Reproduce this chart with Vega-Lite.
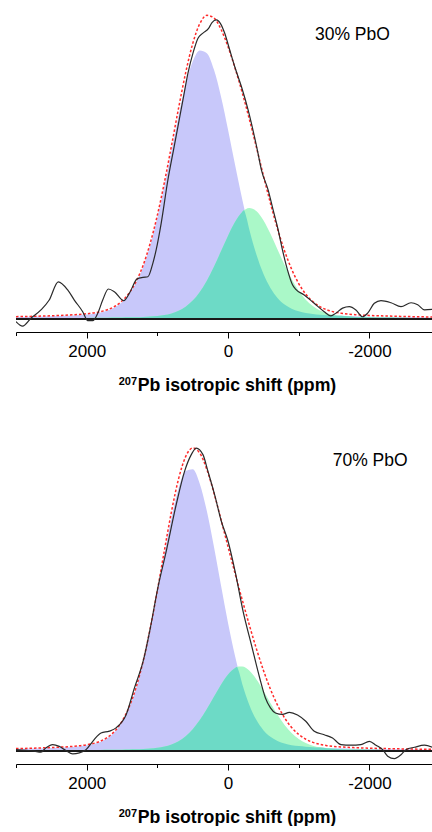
{
  "$schema": "https://vega.github.io/schema/vega-lite/v6.json",
  "padding": {"left": 15, "top": 5, "right": 0, "bottom": 0},
  "spacing": 43,
  "config": {
    "view": {"stroke": null},
    "font": "Liberation Sans",
    "axis": {"grid": false, "domainColor": "#000", "tickColor": "#000", "labelColor": "#000", "titleColor": "#000", "domainWidth": 1, "tickWidth": 1}
  },
  "datasets": {
    "c1": [
      {"ppm": 3000, "blue": 0.0052, "green": 0.0012, "overlap": 0.0012, "fit": 0.0064},
      {"ppm": 2800, "blue": 0.0060, "green": 0.0013, "overlap": 0.0013, "fit": 0.0073},
      {"ppm": 2600, "blue": 0.0071, "green": 0.0015, "overlap": 0.0015, "fit": 0.0086},
      {"ppm": 2400, "blue": 0.0085, "green": 0.0017, "overlap": 0.0017, "fit": 0.0102},
      {"ppm": 2200, "blue": 0.0105, "green": 0.0020, "overlap": 0.0020, "fit": 0.0125},
      {"ppm": 2000, "blue": 0.0137, "green": 0.0023, "overlap": 0.0023, "fit": 0.016},
      {"ppm": 1800, "blue": 0.0205, "green": 0.0028, "overlap": 0.0028, "fit": 0.0233},
      {"ppm": 1700, "blue": 0.0272, "green": 0.0030, "overlap": 0.0030, "fit": 0.0302},
      {"ppm": 1600, "blue": 0.0379, "green": 0.0033, "overlap": 0.0033, "fit": 0.0412},
      {"ppm": 1500, "blue": 0.0549, "green": 0.0037, "overlap": 0.0037, "fit": 0.0586},
      {"ppm": 1400, "blue": 0.081, "green": 0.0042, "overlap": 0.0042, "fit": 0.0852},
      {"ppm": 1300, "blue": 0.1196, "green": 0.0047, "overlap": 0.0047, "fit": 0.1243},
      {"ppm": 1200, "blue": 0.1739, "green": 0.0055, "overlap": 0.0055, "fit": 0.1794},
      {"ppm": 1100, "blue": 0.2464, "green": 0.0067, "overlap": 0.0067, "fit": 0.2531},
      {"ppm": 1000, "blue": 0.3374, "green": 0.0086, "overlap": 0.0086, "fit": 0.346},
      {"ppm": 900, "blue": 0.4446, "green": 0.0118, "overlap": 0.0118, "fit": 0.4564},
      {"ppm": 800, "blue": 0.5615, "green": 0.0171, "overlap": 0.0171, "fit": 0.5786},
      {"ppm": 700, "blue": 0.6786, "green": 0.0258, "overlap": 0.0258, "fit": 0.7044},
      {"ppm": 600, "blue": 0.7831, "green": 0.0396, "overlap": 0.0396, "fit": 0.8227},
      {"ppm": 500, "blue": 0.8604, "green": 0.0602, "overlap": 0.0602, "fit": 0.9206},
      {"ppm": 400, "blue": 0.8979, "green": 0.0891, "overlap": 0.0891, "fit": 0.987},
      {"ppm": 300, "blue": 0.8883, "green": 0.127, "overlap": 0.127, "fit": 1.0153},
      {"ppm": 200, "blue": 0.8336, "green": 0.1732, "overlap": 0.1732, "fit": 1.0068},
      {"ppm": 100, "blue": 0.7437, "green": 0.2251, "overlap": 0.2251, "fit": 0.9688},
      {"ppm": 0, "blue": 0.6324, "green": 0.2776, "overlap": 0.2776, "fit": 0.91},
      {"ppm": -100, "blue": 0.5139, "green": 0.3241, "overlap": 0.3241, "fit": 0.838},
      {"ppm": -200, "blue": 0.4001, "green": 0.3571, "overlap": 0.3571, "fit": 0.7572},
      {"ppm": -225, "blue": 0.3733, "green": 0.3624, "overlap": 0.3624, "fit": 0.7357},
      {"ppm": -250, "blue": 0.3476, "green": 0.3664, "overlap": 0.3476, "fit": 0.714},
      {"ppm": -300, "blue": 0.299, "green": 0.37, "overlap": 0.299, "fit": 0.669},
      {"ppm": -400, "blue": 0.2152, "green": 0.3598, "overlap": 0.2152, "fit": 0.575},
      {"ppm": -500, "blue": 0.1501, "green": 0.329, "overlap": 0.1501, "fit": 0.4791},
      {"ppm": -600, "blue": 0.1024, "green": 0.2836, "overlap": 0.1024, "fit": 0.386},
      {"ppm": -700, "blue": 0.0692, "green": 0.2315, "overlap": 0.0692, "fit": 0.3007},
      {"ppm": -800, "blue": 0.0471, "green": 0.1793, "overlap": 0.0471, "fit": 0.2264},
      {"ppm": -900, "blue": 0.033, "green": 0.1321, "overlap": 0.033, "fit": 0.1651},
      {"ppm": -1000, "blue": 0.0241, "green": 0.0932, "overlap": 0.0241, "fit": 0.1173},
      {"ppm": -1100, "blue": 0.0186, "green": 0.0631, "overlap": 0.0186, "fit": 0.0817},
      {"ppm": -1200, "blue": 0.0151, "green": 0.0417, "overlap": 0.0151, "fit": 0.0568},
      {"ppm": -1300, "blue": 0.0128, "green": 0.0272, "overlap": 0.0128, "fit": 0.04},
      {"ppm": -1400, "blue": 0.0111, "green": 0.018, "overlap": 0.0111, "fit": 0.0291},
      {"ppm": -1500, "blue": 0.0099, "green": 0.0123, "overlap": 0.0099, "fit": 0.0222},
      {"ppm": -1600, "blue": 0.009, "green": 0.009, "overlap": 0.009, "fit": 0.018},
      {"ppm": -1800, "blue": 0.0075, "green": 0.0056, "overlap": 0.0056, "fit": 0.0131},
      {"ppm": -2000, "blue": 0.0063, "green": 0.0042, "overlap": 0.0042, "fit": 0.0105},
      {"ppm": -2200, "blue": 0.0054, "green": 0.0034, "overlap": 0.0034, "fit": 0.0088},
      {"ppm": -2400, "blue": 0.0047, "green": 0.0028, "overlap": 0.0028, "fit": 0.0075},
      {"ppm": -2600, "blue": 0.0041, "green": 0.0023, "overlap": 0.0023, "fit": 0.0064},
      {"ppm": -2800, "blue": 0.0036, "green": 0.002, "overlap": 0.002, "fit": 0.0056},
      {"ppm": -2900, "blue": 0.0034, "green": 0.0019, "overlap": 0.0019, "fit": 0.0053}
    ],
    "e1": [
      {"ppm": 3000, "intensity": -0.010}, {"ppm": 2907, "intensity": -0.025}, {"ppm": 2789, "intensity": 0.001},
      {"ppm": 2647, "intensity": 0.029}, {"ppm": 2530, "intensity": 0.062}, {"ppm": 2402, "intensity": 0.123},
      {"ppm": 2269, "intensity": 0.096}, {"ppm": 2175, "intensity": 0.062}, {"ppm": 2056, "intensity": 0.023},
      {"ppm": 1985, "intensity": -0.007}, {"ppm": 1914, "intensity": -0.007}, {"ppm": 1843, "intensity": 0.018},
      {"ppm": 1773, "intensity": 0.062}, {"ppm": 1693, "intensity": 0.099}, {"ppm": 1608, "intensity": 0.090},
      {"ppm": 1475, "intensity": 0.060}, {"ppm": 1395, "intensity": 0.085}, {"ppm": 1286, "intensity": 0.133},
      {"ppm": 1205, "intensity": 0.138}, {"ppm": 1134, "intensity": 0.140}, {"ppm": 1064, "intensity": 0.185},
      {"ppm": 1017, "intensity": 0.230}, {"ppm": 946, "intensity": 0.319}, {"ppm": 851, "intensity": 0.464},
      {"ppm": 771, "intensity": 0.565}, {"ppm": 709, "intensity": 0.643}, {"ppm": 638, "intensity": 0.732},
      {"ppm": 567, "intensity": 0.822}, {"ppm": 496, "intensity": 0.889}, {"ppm": 425, "intensity": 0.939},
      {"ppm": 355, "intensity": 0.956}, {"ppm": 275, "intensity": 0.972}, {"ppm": 227, "intensity": 0.991},
      {"ppm": 166, "intensity": 1.000}, {"ppm": 105, "intensity": 0.987}, {"ppm": 48, "intensity": 0.956},
      {"ppm": -23, "intensity": 0.900}, {"ppm": -94, "intensity": 0.844}, {"ppm": -189, "intensity": 0.777},
      {"ppm": -284, "intensity": 0.699}, {"ppm": -415, "intensity": 0.564}, {"ppm": -472, "intensity": 0.498},
      {"ppm": -567, "intensity": 0.431}, {"ppm": -638, "intensity": 0.364}, {"ppm": -709, "intensity": 0.297},
      {"ppm": -770, "intensity": 0.230}, {"ppm": -841, "intensity": 0.163}, {"ppm": -912, "intensity": 0.113},
      {"ppm": -959, "intensity": 0.098}, {"ppm": -1078, "intensity": 0.079}, {"ppm": -1219, "intensity": 0.051},
      {"ppm": -1361, "intensity": 0.023}, {"ppm": -1455, "intensity": 0.009}, {"ppm": -1526, "intensity": 0.018},
      {"ppm": -1621, "intensity": 0.035}, {"ppm": -1716, "intensity": 0.040}, {"ppm": -1809, "intensity": 0.029},
      {"ppm": -1904, "intensity": 0.006}, {"ppm": -1975, "intensity": 0.018}, {"ppm": -2070, "intensity": 0.051},
      {"ppm": -2164, "intensity": 0.060}, {"ppm": -2306, "intensity": 0.053}, {"ppm": -2447, "intensity": 0.040},
      {"ppm": -2589, "intensity": 0.053}, {"ppm": -2684, "intensity": 0.046}, {"ppm": -2779, "intensity": 0.029},
      {"ppm": -2911, "intensity": 0.031}
    ],
    "c2": [
      {"ppm": 3000, "blue": 0.0057, "green": 0.0009, "overlap": 0.0009, "fit": 0.0066},
      {"ppm": 2800, "blue": 0.0067, "green": 0.001, "overlap": 0.001, "fit": 0.0077},
      {"ppm": 2600, "blue": 0.008, "green": 0.0012, "overlap": 0.0012, "fit": 0.0092},
      {"ppm": 2400, "blue": 0.0098, "green": 0.0014, "overlap": 0.0014, "fit": 0.0112},
      {"ppm": 2200, "blue": 0.0123, "green": 0.0016, "overlap": 0.0016, "fit": 0.0139},
      {"ppm": 2000, "blue": 0.0174, "green": 0.0019, "overlap": 0.0019, "fit": 0.0193},
      {"ppm": 1800, "blue": 0.0298, "green": 0.0023, "overlap": 0.0023, "fit": 0.0321},
      {"ppm": 1700, "blue": 0.0426, "green": 0.0025, "overlap": 0.0025, "fit": 0.0451},
      {"ppm": 1600, "blue": 0.063, "green": 0.0028, "overlap": 0.0028, "fit": 0.0658},
      {"ppm": 1500, "blue": 0.0949, "green": 0.0031, "overlap": 0.0031, "fit": 0.098},
      {"ppm": 1400, "blue": 0.142, "green": 0.0036, "overlap": 0.0036, "fit": 0.1456},
      {"ppm": 1300, "blue": 0.2081, "green": 0.0042, "overlap": 0.0042, "fit": 0.2123},
      {"ppm": 1200, "blue": 0.2956, "green": 0.0051, "overlap": 0.0051, "fit": 0.3007},
      {"ppm": 1100, "blue": 0.4037, "green": 0.0066, "overlap": 0.0066, "fit": 0.4103},
      {"ppm": 1000, "blue": 0.5273, "green": 0.0091, "overlap": 0.0091, "fit": 0.5364},
      {"ppm": 900, "blue": 0.6574, "green": 0.0133, "overlap": 0.0133, "fit": 0.6707},
      {"ppm": 800, "blue": 0.78, "green": 0.0203, "overlap": 0.0203, "fit": 0.8003},
      {"ppm": 700, "blue": 0.8785, "green": 0.0314, "overlap": 0.0314, "fit": 0.9099},
      {"ppm": 600, "blue": 0.9361, "green": 0.0481, "overlap": 0.0481, "fit": 0.9842},
      {"ppm": 500, "blue": 0.9416, "green": 0.0716, "overlap": 0.0716, "fit": 1.0132},
      {"ppm": 400, "blue": 0.8937, "green": 0.1023, "overlap": 0.1023, "fit": 0.996},
      {"ppm": 300, "blue": 0.8022, "green": 0.1394, "overlap": 0.1394, "fit": 0.9416},
      {"ppm": 200, "blue": 0.683, "green": 0.1804, "overlap": 0.1804, "fit": 0.8634},
      {"ppm": 100, "blue": 0.5533, "green": 0.2207, "overlap": 0.2207, "fit": 0.774},
      {"ppm": 0, "blue": 0.4273, "green": 0.255, "overlap": 0.255, "fit": 0.6823},
      {"ppm": -100, "blue": 0.3157, "green": 0.2768, "overlap": 0.2768, "fit": 0.5925},
      {"ppm": -125, "blue": 0.2907, "green": 0.2796, "overlap": 0.2796, "fit": 0.5703},
      {"ppm": -150, "blue": 0.2671, "green": 0.2814, "overlap": 0.2671, "fit": 0.5485},
      {"ppm": -200, "blue": 0.224, "green": 0.2814, "overlap": 0.224, "fit": 0.5054},
      {"ppm": -300, "blue": 0.1535, "green": 0.2678, "overlap": 0.1535, "fit": 0.4213},
      {"ppm": -400, "blue": 0.1028, "green": 0.239, "overlap": 0.1028, "fit": 0.3418},
      {"ppm": -500, "blue": 0.0683, "green": 0.201, "overlap": 0.0683, "fit": 0.2693},
      {"ppm": -600, "blue": 0.0459, "green": 0.1596, "overlap": 0.0459, "fit": 0.2055},
      {"ppm": -700, "blue": 0.032, "green": 0.1202, "overlap": 0.032, "fit": 0.1522},
      {"ppm": -800, "blue": 0.0234, "green": 0.086, "overlap": 0.0234, "fit": 0.1094},
      {"ppm": -900, "blue": 0.0181, "green": 0.059, "overlap": 0.0181, "fit": 0.0771},
      {"ppm": -1000, "blue": 0.0149, "green": 0.039, "overlap": 0.0149, "fit": 0.0539},
      {"ppm": -1100, "blue": 0.0127, "green": 0.0252, "overlap": 0.0127, "fit": 0.0379},
      {"ppm": -1200, "blue": 0.0111, "green": 0.0164, "overlap": 0.0111, "fit": 0.0275},
      {"ppm": -1300, "blue": 0.0099, "green": 0.0109, "overlap": 0.0099, "fit": 0.0208},
      {"ppm": -1400, "blue": 0.0089, "green": 0.0076, "overlap": 0.0076, "fit": 0.0165},
      {"ppm": -1500, "blue": 0.0081, "green": 0.0057, "overlap": 0.0057, "fit": 0.0138},
      {"ppm": -1600, "blue": 0.0074, "green": 0.0046, "overlap": 0.0046, "fit": 0.012},
      {"ppm": -1800, "blue": 0.0063, "green": 0.0033, "overlap": 0.0033, "fit": 0.0096},
      {"ppm": -2000, "blue": 0.0054, "green": 0.0026, "overlap": 0.0026, "fit": 0.008},
      {"ppm": -2200, "blue": 0.0046, "green": 0.0022, "overlap": 0.0022, "fit": 0.0068},
      {"ppm": -2400, "blue": 0.004, "green": 0.0018, "overlap": 0.0018, "fit": 0.0058},
      {"ppm": -2600, "blue": 0.0036, "green": 0.0015, "overlap": 0.0015, "fit": 0.0051},
      {"ppm": -2800, "blue": 0.0031, "green": 0.0013, "overlap": 0.0013, "fit": 0.0044},
      {"ppm": -2900, "blue": 0.003, "green": 0.0012, "overlap": 0.0012, "fit": 0.0042}
    ],
    "e2": [
      {"ppm": 3000, "intensity": 0.003}, {"ppm": 2742, "intensity": -0.002}, {"ppm": 2647, "intensity": -0.005},
      {"ppm": 2577, "intensity": 0.009}, {"ppm": 2482, "intensity": 0.020}, {"ppm": 2388, "intensity": 0.014},
      {"ppm": 2293, "intensity": 0.000}, {"ppm": 2198, "intensity": -0.011}, {"ppm": 2104, "intensity": -0.008},
      {"ppm": 2009, "intensity": 0.003}, {"ppm": 1914, "intensity": 0.031}, {"ppm": 1797, "intensity": 0.059},
      {"ppm": 1679, "intensity": 0.065}, {"ppm": 1584, "intensity": 0.076}, {"ppm": 1442, "intensity": 0.120},
      {"ppm": 1324, "intensity": 0.210}, {"ppm": 1200, "intensity": 0.300}, {"ppm": 1100, "intensity": 0.410},
      {"ppm": 993, "intensity": 0.545}, {"ppm": 875, "intensity": 0.667}, {"ppm": 733, "intensity": 0.824},
      {"ppm": 615, "intensity": 0.935}, {"ppm": 520, "intensity": 0.991}, {"ppm": 450, "intensity": 1.013},
      {"ppm": 355, "intensity": 0.991}, {"ppm": 284, "intensity": 0.935}, {"ppm": 190, "intensity": 0.857},
      {"ppm": 95, "intensity": 0.768}, {"ppm": 0, "intensity": 0.701}, {"ppm": -100, "intensity": 0.600},
      {"ppm": -213, "intensity": 0.466}, {"ppm": -330, "intensity": 0.355}, {"ppm": -448, "intensity": 0.243},
      {"ppm": -529, "intensity": 0.176}, {"ppm": -600, "intensity": 0.143}, {"ppm": -671, "intensity": 0.126},
      {"ppm": -770, "intensity": 0.121}, {"ppm": -869, "intensity": 0.128}, {"ppm": -983, "intensity": 0.119},
      {"ppm": -1100, "intensity": 0.098}, {"ppm": -1220, "intensity": 0.065}, {"ppm": -1361, "intensity": 0.053},
      {"ppm": -1479, "intensity": 0.042}, {"ppm": -1597, "intensity": 0.020}, {"ppm": -1738, "intensity": 0.018},
      {"ppm": -1880, "intensity": 0.020}, {"ppm": -1999, "intensity": 0.031}, {"ppm": -2093, "intensity": 0.018},
      {"ppm": -2188, "intensity": 0.003}, {"ppm": -2259, "intensity": -0.019}, {"ppm": -2354, "intensity": -0.027},
      {"ppm": -2447, "intensity": -0.014}, {"ppm": -2518, "intensity": 0.003}, {"ppm": -2638, "intensity": 0.011},
      {"ppm": -2779, "intensity": 0.018}, {"ppm": -2911, "intensity": 0.009}
    ]
  },
  "vconcat": [
    {
      "width": 417,
      "height": 327,
      "resolve": {"axis": {"x": "independent"}},
      "layer": [
        {
          "data": {"name": "c1"},
          "mark": {"type": "area", "color": "#c8c8fa", "interpolate": "monotone", "clip": true},
          "encoding": {
            "x": {"field": "ppm", "type": "quantitative", "scale": {"domain": [3000, -2900], "nice": false, "zero": false},
                  "axis": {"orient": "bottom", "values": [2000, 0, -2000], "labelExpr": "'' + datum.value", "tickSize": 6, "labelPadding": 5, "labelFontSize": 17, "title": "Pb isotropic shift (ppm)", "titleX": 220.5, "titleFontSize": 17.7, "titleFontWeight": "bold", "titlePadding": 17}},
            "y": {"field": "blue", "type": "quantitative", "scale": {"domain": [-0.045, 1.05], "nice": false, "zero": false}, "axis": null},
            "y2": {"datum": 0}
          }
        },
        {
          "data": {"name": "c1"},
          "mark": {"type": "area", "color": "#aaf8c8", "interpolate": "monotone", "clip": true},
          "encoding": {
            "x": {"field": "ppm", "type": "quantitative", "scale": {"domain": [3000, -2900], "nice": false, "zero": false},
                  "axis": {"orient": "bottom", "values": [3000, 1000, -1000], "tickSize": 3.5, "labels": false, "domain": false, "title": null}},
            "y": {"field": "green", "type": "quantitative", "axis": null},
            "y2": {"datum": 0}
          }
        },
        {
          "data": {"name": "c1"},
          "mark": {"type": "area", "color": "#6ddac6", "interpolate": "monotone", "clip": true},
          "encoding": {
            "x": {"field": "ppm", "type": "quantitative", "axis": null},
            "y": {"field": "overlap", "type": "quantitative", "axis": null},
            "y2": {"datum": 0}
          }
        },
        {
          "data": {"name": "c1"},
          "mark": {"type": "rule", "color": "#1a1a1a", "strokeWidth": 1.3},
          "encoding": {"y": {"datum": 0, "axis": null}}
        },
        {
          "data": {"name": "c1"},
          "mark": {"type": "line", "color": "#ff2a2a", "strokeWidth": 1.5, "strokeDash": [2.5, 2], "interpolate": "monotone", "clip": true},
          "encoding": {
            "x": {"field": "ppm", "type": "quantitative", "axis": null},
            "y": {"field": "fit", "type": "quantitative", "axis": null}
          }
        },
        {
          "data": {"name": "e1"},
          "mark": {"type": "line", "color": "#2a2a2a", "strokeWidth": 1.2, "interpolate": "monotone", "clip": true},
          "encoding": {
            "x": {"field": "ppm", "type": "quantitative", "axis": null},
            "y": {"field": "intensity", "type": "quantitative", "axis": null}
          }
        },
        {
          "data": {"values": [{}]},
          "mark": {"type": "text", "fontSize": 17.5, "color": "#000", "align": "center", "baseline": "middle"},
          "encoding": {
            "x": {"datum": -1760, "axis": null},
            "y": {"datum": 0.95, "axis": null},
            "text": {"value": "30% PbO"}
          }
        },
        {
          "data": {"values": [{}]},
          "mark": {"type": "text", "fontSize": 11, "fontWeight": "bold", "color": "#000", "align": "center", "baseline": "alphabetic"},
          "encoding": {
            "x": {"datum": 1418, "axis": null},
            "y": {"datum": -0.224, "axis": null},
            "text": {"value": "207"}
          }
        }
      ]
    },
    {
      "width": 417,
      "height": 327,
      "resolve": {"axis": {"x": "independent"}},
      "layer": [
        {
          "data": {"name": "c2"},
          "mark": {"type": "area", "color": "#c8c8fa", "interpolate": "monotone", "clip": true},
          "encoding": {
            "x": {"field": "ppm", "type": "quantitative", "scale": {"domain": [3000, -2900], "nice": false, "zero": false},
                  "axis": {"orient": "bottom", "values": [2000, 0, -2000], "labelExpr": "'' + datum.value", "tickSize": 6, "labelPadding": 5, "labelFontSize": 17, "title": "Pb isotropic shift (ppm)", "titleX": 220.5, "titleFontSize": 17.7, "titleFontWeight": "bold", "titlePadding": 17}},
            "y": {"field": "blue", "type": "quantitative", "scale": {"domain": [-0.045, 1.05], "nice": false, "zero": false}, "axis": null},
            "y2": {"datum": 0}
          }
        },
        {
          "data": {"name": "c2"},
          "mark": {"type": "area", "color": "#aaf8c8", "interpolate": "monotone", "clip": true},
          "encoding": {
            "x": {"field": "ppm", "type": "quantitative", "scale": {"domain": [3000, -2900], "nice": false, "zero": false},
                  "axis": {"orient": "bottom", "values": [3000, 1000, -1000], "tickSize": 3.5, "labels": false, "domain": false, "title": null}},
            "y": {"field": "green", "type": "quantitative", "axis": null},
            "y2": {"datum": 0}
          }
        },
        {
          "data": {"name": "c2"},
          "mark": {"type": "area", "color": "#6ddac6", "interpolate": "monotone", "clip": true},
          "encoding": {
            "x": {"field": "ppm", "type": "quantitative", "axis": null},
            "y": {"field": "overlap", "type": "quantitative", "axis": null},
            "y2": {"datum": 0}
          }
        },
        {
          "data": {"name": "c2"},
          "mark": {"type": "rule", "color": "#1a1a1a", "strokeWidth": 1.3},
          "encoding": {"y": {"datum": 0, "axis": null}}
        },
        {
          "data": {"name": "c2"},
          "mark": {"type": "line", "color": "#ff2a2a", "strokeWidth": 1.5, "strokeDash": [2.5, 2], "interpolate": "monotone", "clip": true},
          "encoding": {
            "x": {"field": "ppm", "type": "quantitative", "axis": null},
            "y": {"field": "fit", "type": "quantitative", "axis": null}
          }
        },
        {
          "data": {"name": "e2"},
          "mark": {"type": "line", "color": "#2a2a2a", "strokeWidth": 1.2, "interpolate": "monotone", "clip": true},
          "encoding": {
            "x": {"field": "ppm", "type": "quantitative", "axis": null},
            "y": {"field": "intensity", "type": "quantitative", "axis": null}
          }
        },
        {
          "data": {"values": [{}]},
          "mark": {"type": "text", "fontSize": 17.5, "color": "#000", "align": "center", "baseline": "middle"},
          "encoding": {
            "x": {"datum": -2011, "axis": null},
            "y": {"datum": 0.97, "axis": null},
            "text": {"value": "70% PbO"}
          }
        },
        {
          "data": {"values": [{}]},
          "mark": {"type": "text", "fontSize": 11, "fontWeight": "bold", "color": "#000", "align": "center", "baseline": "alphabetic"},
          "encoding": {
            "x": {"datum": 1418, "axis": null},
            "y": {"datum": -0.224, "axis": null},
            "text": {"value": "207"}
          }
        }
      ]
    }
  ]
}
